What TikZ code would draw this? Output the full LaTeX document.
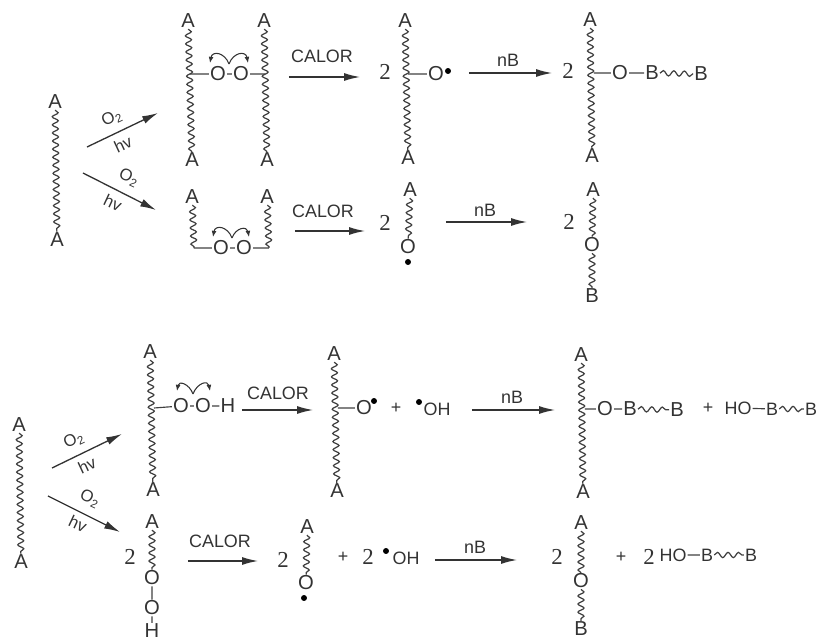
\documentclass[tikz,border=0pt]{standalone}
\usepackage{fontspec}
\setmainfont{Liberation Sans}
\newfontfamily\coeffont{Liberation Serif}
\usetikzlibrary{arrows.meta,decorations.pathmorphing}
\begin{document}
\begin{tikzpicture}[scale=0.2,
    every node/.style={inner sep=0.5pt,text=black!80},
    atom/.style={font=\fontsize{11.5}{13}\selectfont},
    heat/.style={font=\fontsize{10.2}{12}\selectfont},
    gas/.style={font=\fontsize{9.5}{11}\selectfont},
    coef/.style={font=\coeffont\fontsize{13}{15}\selectfont},
    chain/.style={black!75,line width=0.7pt,decorate,decoration={snake,segment length=4.6pt,amplitude=1.7pt}},
    tail/.style={black!75,line width=0.7pt,decorate,decoration={snake,segment length=6pt,amplitude=1.5pt}},
    bond/.style={black!75,line width=0.65pt},
    react/.style={black!80,line width=0.75pt,-{Latex[length=9pt,width=4.5pt]}},
    hook/.style={black!80,line width=0.6pt,-{Latex[length=3.5pt,width=2.8pt]},looseness=1.7},
    radical/.style={circle,fill=black,minimum size=3.4pt,inner sep=0pt}]
    \useasboundingbox (0,0) rectangle (81.9,-64);
    % first row
    \node [atom] (s1t) at (5.5,-10.2) {A};
    \node [atom] (s1b) at (5.7,-24) {A};
    \draw [chain] (s1t) -- (s1b);
    \coordinate (u1s) at (8.7,-14.7);
    \coordinate (u1e) at (15.8,-11.3);
    \coordinate (d1s) at (8.3,-17.3);
    \coordinate (d1e) at (15.6,-21);
    \draw [react] (u1s) -- (u1e);
    \draw [react] (d1s) -- (d1e);
    \node [gas,rotate=25] (u1g) at (11.2,-11.8) {O\textsubscript{2}};
    \node [gas,rotate=25] (u1h) at (12.3,-14.4) {hv};
    \node [gas,rotate=-25] (d1g) at (12.9,-17.8) {O\textsubscript{2}};
    \node [gas,rotate=-25] (d1h) at (11.3,-20.3) {hv};
    \node [atom] (p1t) at (18.8,-2.1) {A};
    \node [atom] (p1b) at (19.2,-16) {A};
    \node [atom] (q1t) at (26.4,-2.1) {A};
    \node [atom] (q1b) at (26.7,-16) {A};
    \draw [chain] (p1t) -- (p1b);
    \draw [chain] (q1t) -- (q1b);
    \coordinate (p1j) at (19,-7.4);
    \coordinate (q1j) at (26.5,-7.4);
    \node [atom] (p1o) at (21.8,-7.4) {O};
    \node [atom] (q1o) at (24.1,-7.4) {O};
    \draw [bond] (p1j) -- (p1o);
    \draw [bond] (p1o) -- (q1o);
    \draw [bond] (q1o) -- (q1j);
    \coordinate (h1m) at (22.9,-6.4);
    \coordinate (h1l) at (21,-6.3);
    \coordinate (h1r) at (24.8,-6.3);
    \draw [hook] (h1m) to[out=110,in=80] (h1l);
    \draw [hook] (h1m) to[out=70,in=100] (h1r);
    \node [heat] (c1) at (32.2,-5.6) {CALOR};
    \coordinate (c1s) at (28.9,-7.7);
    \coordinate (c1e) at (36,-7.7);
    \draw [react] (c1s) -- (c1e);
    \node [coef] (n1) at (38.5,-7.2) {2};
    \node [atom] (r1t) at (40.5,-2.1) {A};
    \node [atom] (r1b) at (40.8,-15.8) {A};
    \draw [chain] (r1t) -- (r1b);
    \coordinate (r1j) at (40.8,-7.4);
    \node [atom] (r1o) at (43.6,-7.4) {O};
    \node [radical] (r1d) at (44.8,-7.1) {};
    \draw [bond] (r1j) -- (r1o);
    \coordinate (b1s) at (46.9,-7.3);
    \coordinate (b1e) at (55.2,-7.3);
    \draw [react] (b1s) -- (b1e);
    \node [heat] (b1) at (50.8,-6) {nB};
    \node [coef] (n2) at (56.8,-7.1) {2};
    \node [atom] (t1t) at (59,-2) {A};
    \node [atom] (t1b) at (59.2,-15.6) {A};
    \draw [chain] (t1t) -- (t1b);
    \coordinate (t1j) at (59.4,-7.3);
    \node [atom] (t1o) at (62,-7.3) {O};
    \node [atom] (t1m) at (65.2,-7.3) {B};
    \node [atom] (t1e) at (70.1,-7.4) {B};
    \draw [bond] (t1j) -- (t1o);
    \draw [bond] (t1o) -- (t1m);
    \draw [tail] (t1m) -- (t1e);
    % second row
    \node [atom] (p2t) at (19.2,-19.7) {A};
    \node [atom] (q2t) at (26.7,-19.7) {A};
    \coordinate (p2j) at (19.4,-24.8);
    \coordinate (q2j) at (26.9,-24.8);
    \draw [chain] (p2t) -- (p2j);
    \draw [chain] (q2t) -- (q2j);
    \node [atom] (p2o) at (22.1,-24.8) {O};
    \node [atom] (q2o) at (24.4,-24.8) {O};
    \draw [bond] (p2j) -- (p2o);
    \draw [bond] (p2o) -- (q2o);
    \draw [bond] (q2o) -- (q2j);
    \coordinate (h2m) at (23.2,-23.8);
    \coordinate (h2l) at (21.3,-23.7);
    \coordinate (h2r) at (24.9,-23.7);
    \draw [hook] (h2m) to[out=110,in=80] (h2l);
    \draw [hook] (h2m) to[out=70,in=100] (h2r);
    \node [heat] (c2) at (32.3,-21.1) {CALOR};
    \coordinate (c2s) at (29.5,-23.1);
    \coordinate (c2e) at (36.5,-23.1);
    \draw [react] (c2s) -- (c2e);
    \node [coef] (n3) at (38.5,-22.3) {2};
    \node [atom] (r2t) at (41,-19) {A};
    \node [atom] (r2o) at (40.8,-24.7) {O};
    \node [radical] (r2d) at (40.8,-26.2) {};
    \draw [chain] (r2t) -- (r2o);
    \coordinate (b2s) at (44.6,-22.2);
    \coordinate (b2e) at (52.7,-22.2);
    \draw [react] (b2s) -- (b2e);
    \node [heat] (b2) at (48.5,-21) {nB};
    \node [coef] (n4) at (56.9,-22.2) {2};
    \node [atom] (t2t) at (59.3,-19) {A};
    \node [atom] (t2o) at (59.2,-24.5) {O};
    \node [atom] (t2b) at (59.2,-29.6) {B};
    \draw [chain] (t2t) -- (t2o);
    \draw [chain] (t2o) -- (t2b);
    % third row
    \node [atom] (s3t) at (1.9,-42.5) {A};
    \node [atom] (s3b) at (2.1,-56.2) {A};
    \draw [chain] (s3t) -- (s3b);
    \coordinate (u3s) at (5.2,-46.8);
    \coordinate (u3e) at (12.2,-43.4);
    \coordinate (d3s) at (4.8,-49.6);
    \coordinate (d3e) at (12,-53.2);
    \draw [react] (u3s) -- (u3e);
    \draw [react] (d3s) -- (d3e);
    \node [gas,rotate=25] (u3g) at (7.4,-44) {O\textsubscript{2}};
    \node [gas,rotate=25] (u3h) at (8.7,-46.5) {hv};
    \node [gas,rotate=-25] (d3g) at (9,-49.9) {O\textsubscript{2}};
    \node [gas,rotate=-25] (d3h) at (7.8,-52.4) {hv};
    \node [atom] (p3t) at (15,-35.2) {A};
    \node [atom] (p3b) at (15.3,-49) {A};
    \draw [chain] (p3t) -- (p3b);
    \coordinate (p3j) at (15.4,-40.8);
    \node [atom] (p3o) at (18.1,-40.6) {O};
    \node [atom] (q3o) at (20.3,-40.6) {O};
    \node [atom] (q3h) at (22.8,-40.6) {H};
    \draw [bond] (p3j) -- (p3o);
    \draw [bond] (p3o) -- (q3o);
    \draw [bond] (q3o) -- (q3h);
    \coordinate (h3m) at (19.3,-39.4);
    \coordinate (h3l) at (17.7,-39.1);
    \coordinate (h3r) at (21,-39.1);
    \draw [hook] (h3m) to[out=110,in=80] (h3l);
    \draw [hook] (h3m) to[out=70,in=100] (h3r);
    \node [heat] (c3) at (27.8,-39.3) {CALOR};
    \coordinate (c3s) at (24.2,-41);
    \coordinate (c3e) at (31.3,-41);
    \draw [react] (c3s) -- (c3e);
    \node [atom] (r3t) at (33.4,-35.4) {A};
    \node [atom] (r3b) at (33.7,-49.1) {A};
    \draw [chain] (r3t) -- (r3b);
    \coordinate (r3j) at (33.8,-40.8);
    \node [atom] (r3o) at (36.4,-40.8) {O};
    \node [radical] (r3d) at (37.4,-40.1) {};
    \draw [bond] (r3j) -- (r3o);
    \node [heat] (a1) at (39.6,-40.8) {+};
    \node [radical] (o1d) at (41.9,-40.2) {};
    \node [heat] (o1) at (43.7,-40.9) {OH};
    \coordinate (b3s) at (47.2,-41);
    \coordinate (b3e) at (55.5,-41);
    \draw [react] (b3s) -- (b3e);
    \node [heat] (b3) at (51.2,-39.7) {nB};
    \node [atom] (t3t) at (58.1,-35.5) {A};
    \node [atom] (t3b) at (58.3,-49.2) {A};
    \draw [chain] (t3t) -- (t3b);
    \coordinate (t3j) at (58.5,-40.9);
    \node [atom] (t3o) at (60.5,-40.9) {O};
    \node [atom] (t3m) at (63,-40.9) {B};
    \node [atom] (t3e) at (67.7,-41) {B};
    \draw [bond] (t3j) -- (t3o);
    \draw [bond] (t3o) -- (t3m);
    \draw [tail] (t3m) -- (t3e);
    \node [heat] (a2) at (70.8,-40.8) {+};
    \node [heat] (o2) at (73.8,-40.8) {HO};
    \node [heat] (t3n) at (77.2,-40.9) {B};
    \node [heat] (t3f) at (81.1,-40.9) {B};
    \draw [bond] (o2) -- (t3n);
    \draw [tail] (t3n) -- (t3f);
    % fourth row
    \node [coef] (n5) at (13,-55.7) {2};
    \node [atom] (p4t) at (15.2,-52.2) {A};
    \node [atom] (p4o) at (15.2,-57.8) {O};
    \node [atom] (q4o) at (15.2,-60.8) {O};
    \node [atom] (q4h) at (15.2,-63.1) {H};
    \draw [chain] (p4t) -- (p4o);
    \draw [bond] (p4o) -- (q4o);
    \draw [bond] (q4o) -- (q4h);
    \node [heat] (c4) at (22,-54.1) {CALOR};
    \coordinate (c4s) at (18.8,-56.1);
    \coordinate (c4e) at (25.8,-56.1);
    \draw [react] (c4s) -- (c4e);
    \node [coef] (n6) at (28.3,-56) {2};
    \node [atom] (r4t) at (30.7,-52.7) {A};
    \node [atom] (r4o) at (30.6,-58.3) {O};
    \node [radical] (r4d) at (30.4,-59.8) {};
    \draw [chain] (r4t) -- (r4o);
    \node [heat] (a3) at (34.3,-55.7) {+};
    \node [coef] (n7) at (36.8,-55.7) {2};
    \node [radical] (o3d) at (38.6,-55.1) {};
    \node [heat] (o3) at (40.6,-55.8) {OH};
    \coordinate (b4s) at (43.5,-56);
    \coordinate (b4e) at (51.7,-56);
    \draw [react] (b4s) -- (b4e);
    \node [heat] (b4) at (47.5,-54.7) {nB};
    \node [coef] (n8) at (55.7,-55.7) {2};
    \node [atom] (t4t) at (58.1,-52.3) {A};
    \node [atom] (t4o) at (58.1,-58.1) {O};
    \node [atom] (t4b) at (58.1,-62.9) {B};
    \draw [chain] (t4t) -- (t4o);
    \draw [chain] (t4o) -- (t4b);
    \node [heat] (a4) at (62.1,-55.7) {+};
    \node [coef] (n9) at (64.9,-55.7) {2};
    \node [heat] (o4) at (67.3,-55.5) {HO};
    \node [heat] (t4m) at (70.7,-55.5) {B};
    \node [heat] (t4e) at (75.1,-55.5) {B};
    \draw [bond] (o4) -- (t4m);
    \draw [tail] (t4m) -- (t4e);
\end{tikzpicture}
\end{document}
